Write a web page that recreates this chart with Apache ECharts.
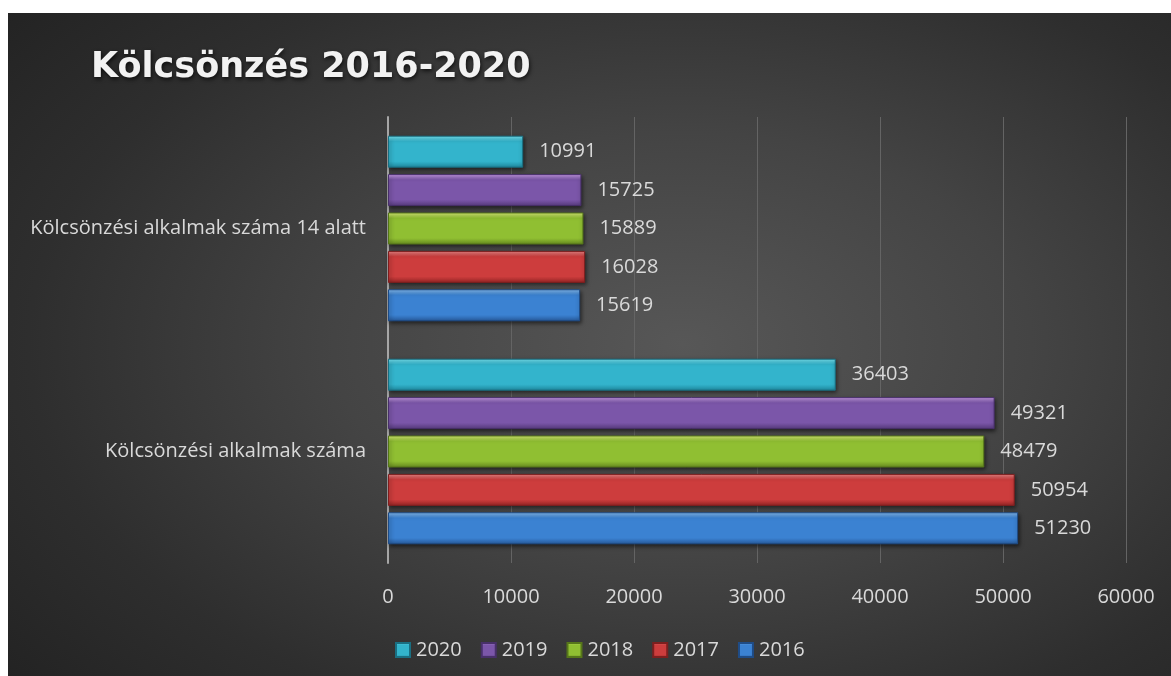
<!DOCTYPE html>
<html>
<head>
<meta charset="utf-8">
<script src="https://cdn.jsdelivr.net/npm/echarts@6/dist/echarts.min.js"></script>
<style>
html,body{margin:0;padding:0;background:#fff;}
#chart{width:1171px;height:676px;
background: radial-gradient(ellipse 75% 80% at 58% 50%, #575757 0%, #444 40%, #2e2e2e 75%, #232323 100%) 8px 13px / 1163px 663px no-repeat, #fff;}
</style>
</head>
<body>
<div id="chart"></div>
<script>
const categories = ['Kölcsönzési alkalmak száma', 'Kölcsönzési alkalmak száma 14 alatt'];
const years = ['2020', '2019', '2018', '2017', '2016'];
const v2020 = [36403, 10991];
const v2019 = [49321, 15725];
const v2018 = [48479, 15889];
const v2017 = [50954, 16028];
const v2016 = [51230, 15619];
const xTicks = [0, 10000, 20000, 30000, 40000, 50000, 60000];

const values = [v2020, v2019, v2018, v2017, v2016];
const palette = [
  {top:'#7cecfa', mid:'#33b4cc', bot:'#1f8aa0', border:'#1a6f82'},
  {top:'#cfa2ee', mid:'#7b56a9', bot:'#573b7e', border:'#48306a'},
  {top:'#e0f57a', mid:'#90bf32', bot:'#678b20', border:'#56761a'},
  {top:'#f28a8a', mid:'#cd3d3d', bot:'#962525', border:'#7e1f1f'},
  {top:'#8cc4f8', mid:'#3b82d2', bot:'#275a9c', border:'#1f4c86'}
];
const font = '"Open Sans", Lato, sans-serif';

const chart = echarts.init(document.getElementById('chart'), null, {renderer:'canvas'});
const series = years.map((y, i) => ({
  name: y,
  type: 'bar',
  data: values[i],
  barWidth: 32,
  barGap: '20%',
  itemStyle: {
    color: new echarts.graphic.LinearGradient(0, 0, 0, 1, [
      {offset: 0, color: palette[i].top},
      {offset: 0.18, color: palette[i].mid},
      {offset: 0.8, color: palette[i].mid},
      {offset: 1, color: palette[i].bot}
    ]),
    borderColor: palette[i].border,
    borderWidth: 1,
    shadowBlur: 4,
    shadowColor: 'rgba(0,0,0,0.55)',
    shadowOffsetY: 2,
    shadowOffsetX: 1
  },
  label: {
    show: true,
    position: 'right',
    distance: 16,
    color: '#d9d9d9',
    fontSize: 20,
    fontFamily: font
  }
}));

chart.setOption({
  backgroundColor: 'transparent',
  animation: false,
  title: {
    text: 'Kölcsönzés 2016-2020',
    left: 86, top: 45,
    textStyle: {
      color: '#f2f2f2', fontSize: 35, fontWeight: 'bold', fontFamily: '"DejaVu Sans", sans-serif',
      textShadowColor: 'rgba(0,0,0,0.7)', textShadowBlur: 4, textShadowOffsetX: 1, textShadowOffsetY: 2
    }
  },
  legend: {
    data: ['2020', '2019', '2018', '2017', '2016'],
    left: 390, top: 635,
    icon: 'rect', itemWidth: 14, itemHeight: 14, itemGap: 19,
    textStyle: {color: '#d9d9d9', fontSize: 20, fontFamily: font, padding: [0, 0, 0, 1]}
  },
  grid: {left: 388, right: 45, top: 117, bottom: 113, containLabel: false},
  xAxis: {
    type: 'value', min: xTicks[0], max: xTicks[xTicks.length - 1], interval: 10000,
    axisLine: {show: false}, axisTick: {show: false},
    splitLine: {show: true, lineStyle: {color: '#646464', width: 1}},
    axisLabel: {color: '#d9d9d9', fontSize: 20, fontFamily: font, margin: 24,
      formatter: v => String(v)}
  },
  yAxis: {
    type: 'category', data: categories,
    axisLine: {show: true, lineStyle: {color: '#a6a6a6', width: 2}},
    axisTick: {show: false},
    axisLabel: {color: '#d9d9d9', fontSize: 20, fontFamily: font, margin: 22}
  },
  series: series
});
</script>
</body>
</html>
